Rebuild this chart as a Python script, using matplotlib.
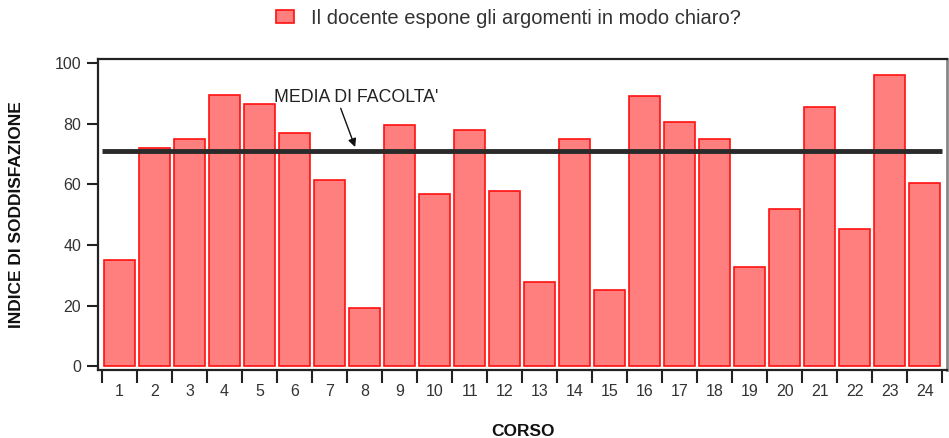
import matplotlib.pyplot as plt
from matplotlib.patches import Patch
from matplotlib.ticker import FixedLocator

plt.rcParams['font.family'] = ['Liberation Sans', 'DejaVu Sans']

# Punteggi per corso
corsi = [str(i) for i in range(1, 25)]
indice = [35, 72, 75, 89.5, 86.5, 77, 61.5, 19.2, 79.5, 56.8, 77.9, 57.8,
          27.7, 75, 25, 89.1, 80.5, 74.8, 32.7, 51.7, 85.4, 45.2, 96.1, 60.3]
media_facolta = 71
etichetta_media = "MEDIA DI FACOLTA'"
legenda = "Il docente espone gli argomenti in modo chiaro?"

fig = plt.figure(figsize=(9.49, 4.38), dpi=100)
ax = fig.add_axes([0.1033, 0.155, 0.8947, 0.71])

x = list(range(1, len(corsi) + 1))
ax.bar(x, indice, width=0.88, color='#ff7f7f', edgecolor='#ff1010', linewidth=1.2)

ax.plot([0.5, 24.5], [media_facolta, media_facolta], color='#2a2a2a', lw=3.5,
        solid_capstyle='butt')

ax.annotate(etichetta_media, xy=(7.73, 72.3), xytext=(5.41, 88.8),
            fontsize=12.8, color='#222222', va='center', ha='left',
            arrowprops=dict(arrowstyle='-|>', color='#111111', lw=1,
                            mutation_scale=12, shrinkA=0, shrinkB=0,
                            relpos=(0.4, 0)))

ax.set_xlim(0.386, 24.64)
ax.set_ylim(-1.3, 101.3)

# tacche ai bordi delle categorie, etichette al centro
ax.xaxis.set_major_locator(FixedLocator([i + 0.5 for i in range(0, 25)]))
ax.xaxis.set_minor_locator(FixedLocator(x))
ax.set_xticklabels([], minor=False)
ax.set_xticklabels(corsi, minor=True)
ax.tick_params(axis='x', which='major', length=9, width=1.5, color='#222222')
ax.tick_params(axis='x', which='minor', length=0, pad=10, labelsize=11.5,
               labelcolor='#333333')

ax.set_yticks([0, 20, 40, 60, 80, 100])
ax.tick_params(axis='y', length=8, width=1.5, color='#222222', labelsize=11.5,
               labelcolor='#333333', pad=4)

for s in ['left', 'bottom', 'top']:
    ax.spines[s].set_color('#222222')
    ax.spines[s].set_linewidth(1.6)
ax.spines['right'].set_color('#888888')
ax.spines['right'].set_linewidth(2)

ax.set_xlabel('CORSO', fontsize=12.5, fontweight='bold', color='#111111', labelpad=18)
ax.set_ylabel('INDICE DI SODDISFAZIONE', fontsize=12.5, fontweight='bold',
              color='#111111', labelpad=22)

fig.legend(handles=[Patch(facecolor='#ff7f7f', edgecolor='#ff1010', lw=1.2,
                          label=legenda)],
           loc='center', bbox_to_anchor=(0.536, 0.958), frameon=False,
           fontsize=14.5, handlelength=0.9, handleheight=0.6, handletextpad=0.85,
           labelcolor='#333333')

fig.savefig('out.png', dpi=100)
